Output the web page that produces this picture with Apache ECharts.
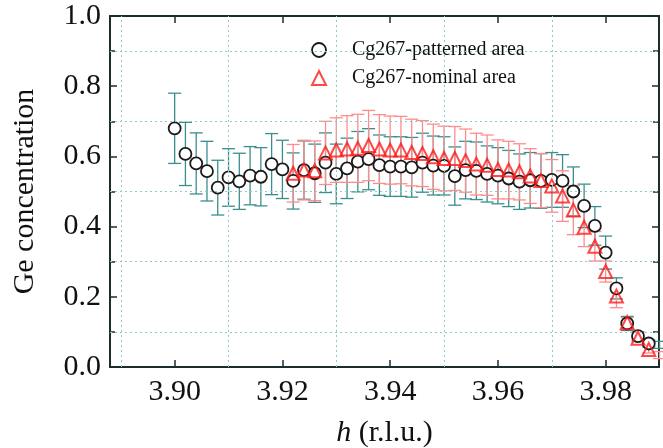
<!DOCTYPE html>
<html><head><meta charset="utf-8">
<script src="https://cdn.jsdelivr.net/npm/echarts@6/dist/echarts.min.js"></script>
<style>html,body{margin:0;padding:0;background:#fff}#c{width:663px;height:448px}</style>
</head><body><div id="c"></div>
<script>
const circleH = [3.900,3.902,3.904,3.906,3.908,3.910,3.912,3.914,3.916,3.918,3.920,3.922,3.924,3.926,3.928,3.930,3.932,3.934,3.936,3.938,3.940,3.942,3.944,3.946,3.948,3.950,3.952,3.954,3.956,3.958,3.960,3.962,3.964,3.966,3.968,3.970,3.972,3.974,3.976,3.978,3.980,3.982,3.984,3.986,3.988,3.990];
const circleVal = [0.680,0.607,0.580,0.558,0.511,0.540,0.529,0.545,0.542,0.578,0.563,0.530,0.561,0.552,0.582,0.550,0.566,0.585,0.592,0.575,0.571,0.571,0.569,0.582,0.574,0.573,0.544,0.561,0.559,0.550,0.545,0.537,0.528,0.532,0.530,0.533,0.530,0.500,0.459,0.402,0.326,0.224,0.124,0.088,0.067,0.063];
const circleErr = [0.100,0.090,0.087,0.085,0.078,0.082,0.080,0.083,0.083,0.087,0.083,0.080,0.083,0.083,0.085,0.085,0.086,0.086,0.087,0.086,0.085,0.085,0.085,0.084,0.084,0.083,0.083,0.082,0.082,0.080,0.080,0.080,0.079,0.079,0.078,0.078,0.075,0.070,0.062,0.055,0.047,0.030,0.020,0.012,0.010,0.010];
const triH = [3.922,3.924,3.926,3.928,3.930,3.932,3.934,3.936,3.938,3.940,3.942,3.944,3.946,3.948,3.950,3.952,3.954,3.956,3.958,3.960,3.962,3.964,3.966,3.968,3.970,3.972,3.974,3.976,3.978,3.980,3.982,3.984,3.986,3.988,3.990];
const triVal = [0.552,0.561,0.559,0.610,0.618,0.621,0.623,0.631,0.621,0.618,0.618,0.611,0.608,0.599,0.594,0.594,0.588,0.578,0.575,0.563,0.561,0.556,0.544,0.531,0.516,0.487,0.447,0.398,0.344,0.272,0.202,0.126,0.082,0.050,0.034];
const triErr = [0.082,0.085,0.085,0.090,0.092,0.095,0.097,0.100,0.098,0.097,0.096,0.095,0.094,0.093,0.092,0.091,0.090,0.088,0.086,0.084,0.082,0.080,0.078,0.077,0.075,0.072,0.070,0.055,0.042,0.030,0.033,0.015,0.010,0.010,0.010];
const xTickLabels = [3.90,3.92,3.94,3.96,3.98];
const xGridLines = [3.89,3.91,3.93,3.95,3.97];
const yGridLines = [0.1,0.3,0.5,0.7,0.9];
const seriesNames = ['Cg267-patterned area','Cg267-nominal area'];

const FONT = 'Liberation Serif';
const AX = '#1a2e2e';
const chart = echarts.init(document.getElementById('c'));

function errRender(color){
  return function(params, api){
    const x = api.value(0), y = api.value(1), e = api.value(2);
    const top = api.coord([x, y + e]);
    const bot = api.coord([x, y - e]);
    const w = 6.5;
    const st = {stroke: color, lineWidth: 1.3};
    return {type:'group', children:[
      {type:'line', shape:{x1:top[0],y1:top[1],x2:bot[0],y2:bot[1]}, style:st},
      {type:'line', shape:{x1:top[0]-w,y1:top[1],x2:top[0]+w,y2:top[1]}, style:st},
      {type:'line', shape:{x1:bot[0]-w,y1:bot[1],x2:bot[0]+w,y2:bot[1]}, style:st}
    ]};
  };
}

const circleData = circleH.map((h,i)=>[h, circleVal[i]]);
const triData = triH.map((h,i)=>[h, triVal[i]]);
const circleErrData = circleH.map((h,i)=>[h, circleVal[i], circleErr[i]]);
const triErrData = triH.map((h,i)=>[h, triVal[i], triErr[i]]);

const xMin = 3.888, xMax = 3.9899;
const gridLineStyle = {color:'#8fc9c9', type:[2,3], width:1};

chart.setOption({
  animation:false,
  grid:{left:110, right:4, top:16, bottom:81, outerBoundsMode:'none', containLabel:false},
  legend:{
    orient:'vertical', left:306, top:35, itemWidth:14, itemHeight:14, itemGap:8,
    textStyle:{fontFamily:FONT, fontSize:20, color:'#111', lineHeight:20, padding:[0,0,0,21]},
    data:[
      {name:seriesNames[0], icon:'circle', itemStyle:{color:'#fff', borderColor:'#1a1a1a', borderWidth:1.8}},
      {name:seriesNames[1], icon:'triangle', itemStyle:{color:'#fff', borderColor:'#ff1a1a', borderWidth:2}}
    ]
  },
  xAxis:[{
    type:'value', min:xMin, max:xMax, position:'bottom',
    name:'{i|h} (r.l.u.)', nameLocation:'middle', nameGap:51,
    nameTextStyle:{fontFamily:FONT, fontSize:30, color:'#111', rich:{i:{fontFamily:FONT, fontSize:30, fontStyle:'italic', color:'#111'}}},
    axisLine:{onZero:false, lineStyle:{color:AX, width:2}},
    axisTick:{inside:true, length:7, lineStyle:{color:AX, width:1.5}, customValues:xTickLabels},
    axisLabel:{customValues:xTickLabels, formatter:v=>v.toFixed(2), fontFamily:FONT, fontSize:30, color:'#111', margin:10},
    splitLine:{show:false}
  },{
    type:'value', min:xMin, max:xMax, position:'top',
    axisLine:{onZero:false, lineStyle:{color:AX, width:2}},
    axisTick:{inside:true, length:7, lineStyle:{color:AX, width:1.5}, customValues:xTickLabels},
    axisLabel:{show:false}, splitLine:{show:false}
  }],
  yAxis:[{
    type:'value', min:0, max:1, interval:0.2, position:'left',
    name:'Ge concentration', nameLocation:'middle', nameGap:70,
    nameTextStyle:{fontFamily:FONT, fontSize:30, color:'#111'},
    axisLine:{onZero:false, lineStyle:{color:AX, width:2}},
    axisTick:{inside:true, length:7, lineStyle:{color:AX, width:1.5}},
    minorTick:{show:true, splitNumber:2, length:5, lineStyle:{color:AX, width:1.5}},
    axisLabel:{formatter:v=>v.toFixed(1), fontFamily:FONT, fontSize:30, color:'#111', margin:9},
    splitLine:{show:false}
  },{
    type:'value', min:0, max:1, interval:0.2, position:'right',
    axisLine:{onZero:false, lineStyle:{color:AX, width:2}},
    axisTick:{inside:true, length:7, lineStyle:{color:AX, width:1.5}},
    minorTick:{show:true, splitNumber:2, length:6, lineStyle:{color:AX, width:1.5}},
    axisLabel:{show:false}, splitLine:{show:false}
  }],
  series:[
    {type:'custom', name:'gridlines', xAxisIndex:0, yAxisIndex:0, silent:true, data:[], z:0,
     markLine:{silent:true, symbol:'none', label:{show:false}, lineStyle:gridLineStyle, animation:false,
       data:[...xGridLines.map(v=>({xAxis:v})), ...yGridLines.map(v=>({yAxis:v}))]},
     renderItem:()=>null},
    {type:'custom', name:'errC', xAxisIndex:0, yAxisIndex:0, data:circleErrData, renderItem:errRender('#3a8f8c'), z:2},
    {type:'custom', name:'errT', xAxisIndex:0, yAxisIndex:0, data:triErrData, renderItem:errRender('#ff8c8c'), z:3},
    {type:'scatter', name:seriesNames[0], data:circleData, symbol:'circle', symbolSize:12,
     itemStyle:{color:'#fff', borderColor:'#1a1a1a', borderWidth:1.8, opacity:1}, z:4},
    {type:'scatter', name:seriesNames[1], data:triData, symbol:'triangle', symbolSize:13,
     itemStyle:{color:'rgba(255,255,255,0)', borderColor:'#ff1a1a', borderWidth:2}, z:5}
  ]
});
</script></body></html>
